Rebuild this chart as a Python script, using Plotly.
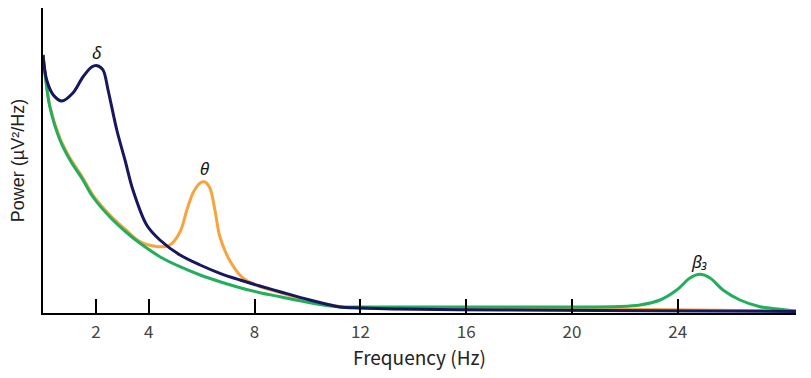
import plotly.graph_objects as go

# Frequencies (Hz) and power (arbitrary units)
delta_f = [0, 0.14, 0.39, 0.71, 1.13, 1.51, 1.84, 2.05, 2.27, 2.46, 2.79, 3.10, 3.40, 3.92,
           4.42, 5.18, 5.94, 6.69, 7.45, 8.20, 8.96, 10.09, 11.23, 11.98, 13.5, 17.28,
           21.06, 24.84, 28.47]
delta_p = [258, 233, 218, 212, 220, 236, 246, 247.3, 243, 223, 183, 153, 123, 88,
           73, 58, 48, 39.7, 33, 27, 21.3, 13, 6, 5, 4, 3,
           2.5, 2, 1.5]

theta_f = [0, 0.08, 0.26, 0.64, 1.02, 1.51, 1.89, 2.53, 3.18, 3.67, 4.35, 4.80, 5.18, 5.44,
           5.67, 5.94, 6.12, 6.31, 6.50, 6.69, 7.07, 7.56, 8.20, 8.70, 9.34, 10.09, 11.23,
           11.98, 17.28, 22.95, 28.47]
theta_p = [258, 239, 207, 175, 155, 135, 118, 98, 82, 71.3, 66.3, 68, 81, 103,
           120, 130, 131, 125, 103, 76, 52, 35, 26.3, 22.5, 17.5, 12, 6.5,
           5, 4, 3.5, 2]

beta_f = [0, 0.08, 0.26, 0.64, 1.02, 1.51, 1.89, 2.53, 3.18, 3.67, 4.42, 5.18, 5.94, 6.69,
          7.45, 8.20, 8.96, 10.09, 11.23, 11.98, 15.39, 19.17, 21.81, 22.57, 23.33, 23.96,
          24.46, 24.84, 25.22, 25.71, 26.35, 27.11, 27.86, 28.47]
beta_p = [258, 238, 206, 173, 153, 133, 116, 96, 80, 69.7, 56.3, 46.3, 38, 31.3,
          25.3, 20.3, 16.3, 10.3, 6, 6, 6, 6, 6.5, 8, 13, 23,
          35, 38.7, 35, 23, 13, 6.3, 3.7, 2]

tick_vals = [2, 4, 8, 12, 16, 20, 24]
tick_text = ["2", "4", "8", "12", "16", "20", "24"]

labels = ["<i>δ</i>", "<i>θ</i>", "<i>β₃</i>"]
label_f = [2.05, 6.12, 24.84]
label_p = [261, 145, 52]

C_NAVY = "#16175e"
C_ORANGE = "#f8a43e"
C_GREEN = "#22ae5c"

CJK = "Noto Sans CJK KR, Noto Sans, sans-serif"

fig = go.Figure()
for f, p, c in [(theta_f, theta_p, C_ORANGE), (beta_f, beta_p, C_GREEN), (delta_f, delta_p, C_NAVY)]:
    fig.add_trace(go.Scatter(x=f, y=p, mode="lines",
                             line=dict(color=c, width=3, shape="spline", smoothing=0.9),
                             hoverinfo="skip", showlegend=False))

for t, f, p in zip(labels, label_f, label_p):
    fig.add_annotation(x=f, y=p, text=t, showarrow=False, xanchor="center", yanchor="middle",
                       font=dict(family="Noto Sans, Open Sans, sans-serif", size=17, color="#111"))

fig.update_layout(
    width=803, height=370,
    margin=dict(l=35, r=15, t=0, b=65),
    paper_bgcolor="white", plot_bgcolor="white",
    font=dict(family=CJK, color="#333"),
    xaxis=dict(range=[0, 28.47], showgrid=False, zeroline=False, automargin=False,
               showline=True, linecolor="black", linewidth=2,
               ticks="inside", ticklen=14, tickwidth=2, tickcolor="black",
               tickvals=tick_vals, ticktext=tick_text, ticklabelstandoff=3,
               tickfont=dict(family=CJK, size=17, color="#444"),
               title=dict(text="Frequency (Hz)",
                          font=dict(family=CJK, size=19, color="#222"), standoff=5)),
    yaxis=dict(range=[0, 305], showgrid=False, zeroline=False, automargin=False,
               showline=True, linecolor="black", linewidth=2,
               ticks="", showticklabels=False,
               title=dict(text="Power (µV²/Hz)",
                          font=dict(family="Liberation Sans, Arial, sans-serif", size=18, color="#222"),
                          standoff=14)),
)

fig.write_html("out.html")
